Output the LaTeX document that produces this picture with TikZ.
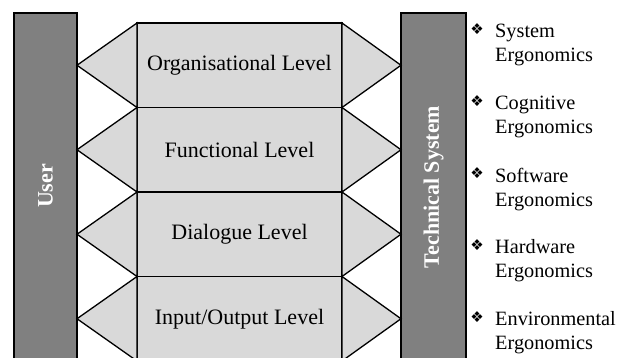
\documentclass[tikz,border=0pt]{standalone}
\usepackage{fontspec}
\setmainfont{Liberation Serif}
\newfontfamily\symfont{DejaVu Sans}
\definecolor{barfill}{HTML}{808080}
\definecolor{levelfill}{HTML}{D9D9D9}
\begin{document}
\begin{tikzpicture}[x=1pt,y=-1pt,
  bar/.style={draw=black, line width=1.5pt, fill=barfill, minimum width=63pt,
    minimum height=400pt, inner sep=0pt, outer sep=0pt},
  bartext/.style={rotate=90, text=white, inner sep=0pt,
    font=\fontsize{22}{26}\selectfont\bfseries},
  levelbox/.style={draw=black, line width=1.3pt, fill=levelfill, minimum width=205pt,
    minimum height=84.5pt, inner sep=0pt, outer sep=0pt, font=\fontsize{22}{26}\selectfont},
  wedge/.style={draw=black, line width=1.3pt, fill=levelfill, line join=miter},
  itemtext/.style={anchor=north west, align=left, inner sep=0pt,
    font=\fontsize{20.3}{24}\selectfont},
  itembullet/.style={inner sep=0pt, font=\symfont\fontsize{15}{15}\selectfont}]
\useasboundingbox (0,0) rectangle (624,358);
\clip (0,0) rectangle (624,358);

% side bars
\node[bar] (user) at (45.5,213) {};
\node[bar, minimum width=65pt] (tech) at (433.5,213) {};
\node[bartext] (usertxt) at (45.5,186) {User};
\node[bartext] (techtxt) at (433.5,187) {Technical System};

% level boxes
\node[levelbox] (l1) at (239.5,65.25) {Organisational Level};
\node[levelbox] (l2) at (239.5,149.75) {Functional Level};
\node[levelbox] (l3) at (239.5,234.25) {Dialogue Level};
\node[levelbox] (l4) at (239.5,318.75) {Input/Output Level};

% wedges pointing to both bars
\foreach \l in {l1,l2,l3,l4}{
  \draw[wedge] (\l.north west) -- (user.east |- \l.west) -- (\l.south west) -- cycle;
  \draw[wedge] (\l.north east) -- (tech.west |- \l.east) -- (\l.south east) -- cycle;
}

% ergonomics list
\foreach \n/\txt [count=\i from 0] in {b1/System, b2/Cognitive, b3/Software, b4/Hardware, b5/Environmental}{
  \node[itembullet] (\n) at (477,29.5+72*\i) {❖};
  \node[itemtext] (\n t) at (495,23.6+72*\i) {\txt\\Ergonomics};
}
\end{tikzpicture}
\end{document}
